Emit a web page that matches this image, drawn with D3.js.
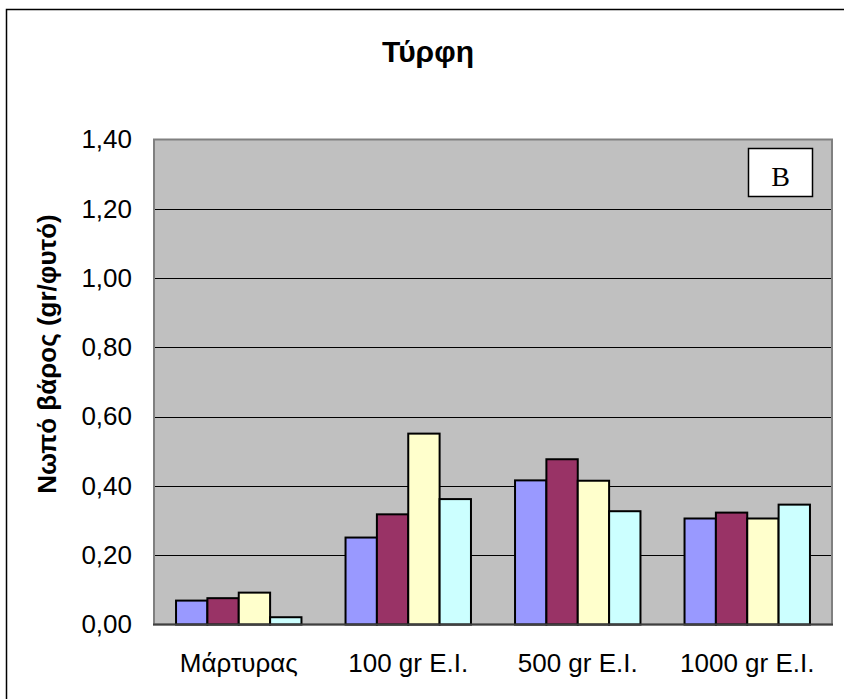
<!DOCTYPE html>
<html>
<head>
<meta charset="utf-8">
<script src="https://cdn.jsdelivr.net/npm/d3@7"></script>
<style>
  html, body { margin: 0; padding: 0; background: #fff; }
  svg { display: block; }
</style>
</head>
<body>
<svg id="chart" width="844" height="699"></svg>
<script>
// chart values
var categories = ['Μάρτυρας', '100 gr E.I.', '500 gr E.I.', '1000 gr E.I.'];
var seriesNames = ['s1', 's2', 's3', 's4'];
var series1 = [0.069, 0.251, 0.416, 0.306];
var series2 = [0.076, 0.318, 0.477, 0.323];
var series3 = [0.092, 0.551, 0.415, 0.306];
var series4 = [0.021, 0.362, 0.327, 0.346];
var yTicks = [0, 0.2, 0.4, 0.6, 0.8, 1.0, 1.2, 1.4];
var colors = ['#9999FF', '#993366', '#FFFFCC', '#CCFFFF'];

var svg = d3.select('#chart');
var font = '"Liberation Sans", Arial, sans-serif';

var plot = { left: 154, right: 832, top: 139.5, bottom: 624.5 };

// outer chart frame (right and bottom run off the picture)
svg.append('rect')
  .attr('x', 6.5).attr('y', 9.5)
  .attr('width', 900).attr('height', 800)
  .attr('fill', '#fff').attr('stroke', '#000').attr('stroke-width', 1.5);

// title
svg.append('text')
  .attr('x', 428).attr('y', 62)
  .attr('text-anchor', 'middle')
  .attr('font-family', font).attr('font-weight', 'bold').attr('font-size', 30)
  .text('Τύρφη');

var x0 = d3.scaleBand().domain(categories).range([plot.left, plot.right]);
var gap = x0.bandwidth() * 0.13;
var x1 = d3.scaleBand().domain(seriesNames).range([gap, x0.bandwidth() - gap]);
var y = d3.scaleLinear().domain([0, 1.4]).range([plot.bottom, plot.top]);

var fmt = d3.formatLocale({ decimal: ',', thousands: '.', grouping: [3], currency: ['', ''] }).format('.2f');

// plot area
svg.append('rect')
  .attr('x', plot.left).attr('y', plot.top)
  .attr('width', plot.right - plot.left).attr('height', plot.bottom - plot.top)
  .attr('fill', '#C0C0C0');

// gridlines
svg.append('g')
  .selectAll('line')
  .data(yTicks.filter(function (d) { return d > 0 && d < 1.4; }))
  .join('line')
  .attr('x1', plot.left).attr('x2', plot.right)
  .attr('y1', function (d) { return Math.round(y(d)) + 0.5; })
  .attr('y2', function (d) { return Math.round(y(d)) + 0.5; })
  .attr('stroke', '#000').attr('stroke-width', 1);

// plot border
svg.append('rect')
  .attr('x', plot.left).attr('y', plot.top)
  .attr('width', plot.right - plot.left).attr('height', plot.bottom - plot.top)
  .attr('fill', 'none').attr('stroke', '#808080').attr('stroke-width', 2);

// bars
var rows = categories.map(function (c, i) {
  return { cat: c, values: [series1[i], series2[i], series3[i], series4[i]] };
});

svg.append('g')
  .selectAll('g')
  .data(rows)
  .join('g')
  .attr('transform', function (d) { return 'translate(' + x0(d.cat) + ',0)'; })
  .selectAll('rect')
  .data(function (d) { return d.values.map(function (v, j) { return { key: seriesNames[j], value: v, idx: j }; }); })
  .join('rect')
  .attr('x', function (d) { return x1(d.key); })
  .attr('width', x1.bandwidth())
  .attr('y', function (d) { return y(d.value); })
  .attr('height', function (d) { return y(0) - y(d.value); })
  .attr('fill', function (d) { return colors[d.idx]; })
  .attr('stroke', '#000').attr('stroke-width', 2);

// baseline
svg.append('line')
  .attr('x1', plot.left - 1).attr('x2', plot.right + 1)
  .attr('y1', y(0)).attr('y2', y(0))
  .attr('stroke', '#404040').attr('stroke-width', 2);

// y axis labels
var yAxis = d3.axisLeft(y).tickValues(yTicks).tickFormat(fmt).tickSize(0).tickPadding(22);
var yg = svg.append('g')
  .attr('transform', 'translate(' + plot.left + ',0)')
  .call(yAxis);
yg.select('.domain').remove();
yg.selectAll('text')
  .attr('font-family', font).attr('font-size', 26).attr('fill', '#000')
  .attr('dy', '0.32em');

// x axis labels
var xAxis = d3.axisBottom(x0).tickSize(0).tickPadding(29);
var xg = svg.append('g')
  .attr('transform', 'translate(0,' + plot.bottom + ')')
  .call(xAxis);
xg.select('.domain').remove();
xg.selectAll('text')
  .attr('font-family', font).attr('font-size', 26).attr('fill', '#000');

// y axis title
svg.append('text')
  .attr('transform', 'translate(56,354) rotate(-90)')
  .attr('text-anchor', 'middle')
  .attr('font-family', font).attr('font-weight', 'bold').attr('font-size', 26)
  .text('Νωπό βάρος (gr/φυτό)');

// panel letter box
svg.append('rect')
  .attr('x', 748.5).attr('y', 148.5)
  .attr('width', 64).attr('height', 48)
  .attr('fill', '#fff').attr('stroke', '#000').attr('stroke-width', 1.5);
svg.append('text')
  .attr('x', 780.5).attr('y', 186)
  .attr('text-anchor', 'middle')
  .attr('font-family', '"Liberation Serif", "Times New Roman", serif').attr('font-size', 28)
  .text('B');
</script>
</body>
</html>
